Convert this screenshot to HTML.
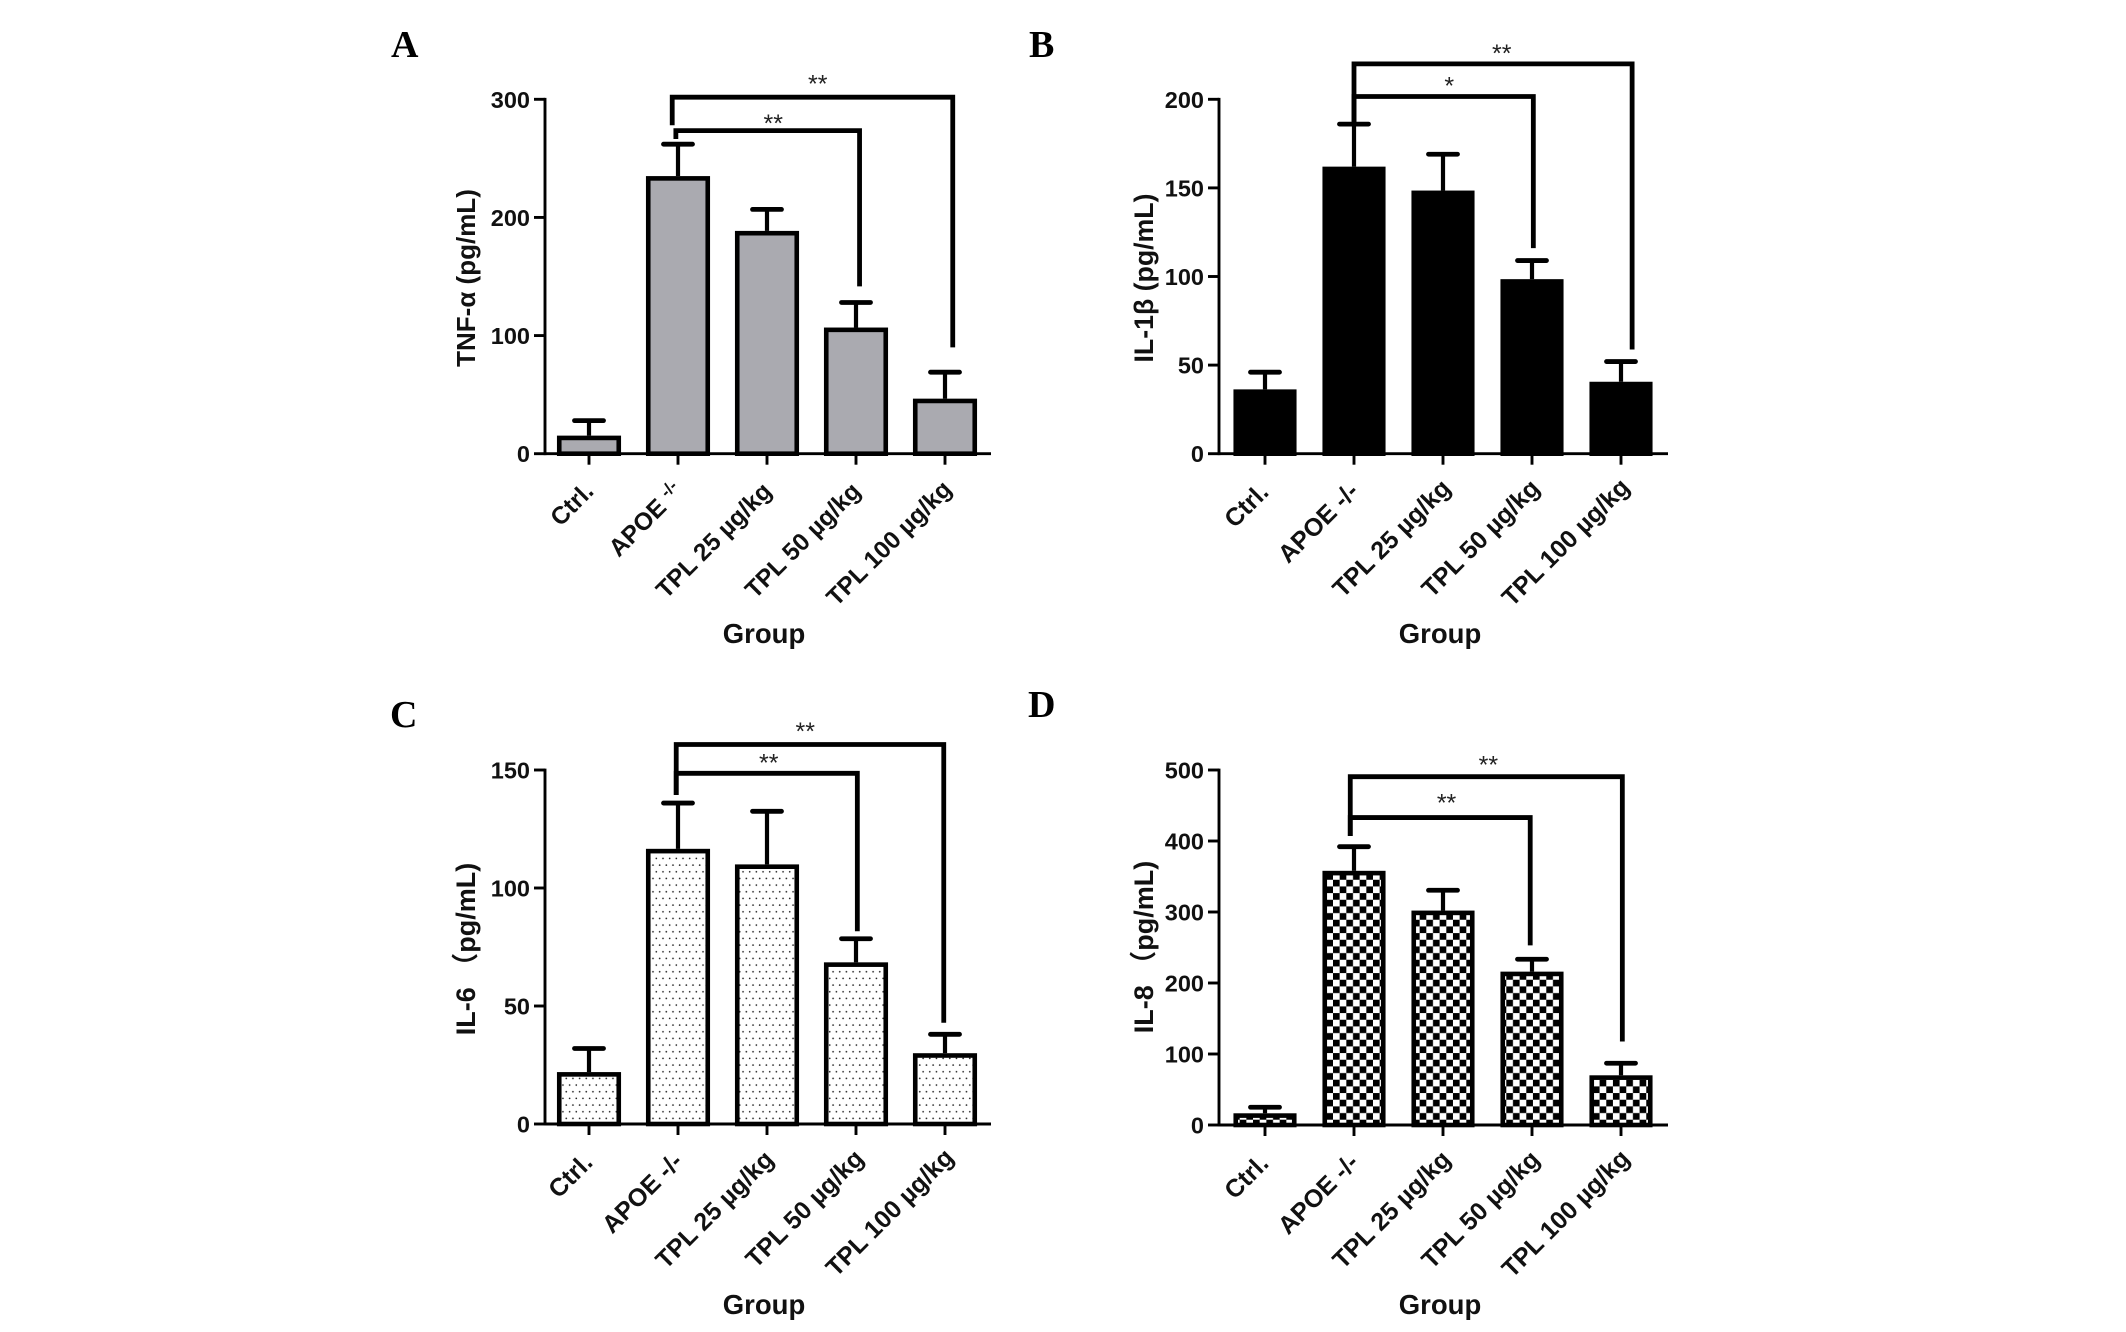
<!DOCTYPE html>
<html lang="en">
<head>
<meta charset="utf-8">
<title>Cytokine levels by treatment group</title>
<style>
  html, body { margin: 0; padding: 0; background: #fff; }
  #figure { display: block; width: 2126px; height: 1332px; }
  text { font-family: "Liberation Sans", "Noto Sans CJK SC", sans-serif; fill: #111; }
  .letter { font-family: "Liberation Serif", serif; font-weight: bold; font-size: 38px; fill: #000; }
  .tick-label { font-weight: bold; font-size: 23.5px; }
  .cat-label { font-weight: bold; }
  .y-title { font-weight: bold; }
  .x-title { font-weight: bold; font-size: 27.5px; }
  .star { font-size: 25px; fill: #222; }
</style>
</head>
<body>
<svg id="figure" xmlns="http://www.w3.org/2000/svg" width="2126" height="1332" viewBox="0 0 2126 1332">
  <defs>
    <pattern id="dots" patternUnits="userSpaceOnUse" width="6.67" height="13.33" x="1" y="2">
      <rect width="6.67" height="13.33" fill="#fff"/>
      <circle cx="1.67" cy="3.33" r="0.85" fill="#222"/>
      <circle cx="5" cy="10" r="0.85" fill="#222"/>
    </pattern>
    <pattern id="checker" patternUnits="userSpaceOnUse" width="13.33" height="13.33">
      <rect width="13.33" height="13.33" fill="#fff"/>
      <rect width="6.67" height="6.67" fill="#000"/>
      <rect x="6.67" y="6.67" width="6.67" height="6.67" fill="#000"/>
    </pattern>
  </defs>
  <rect width="2126" height="1332" fill="#fff"/>
</svg>
<script>
const categories = ['Ctrl.', 'APOE -/-', 'TPL 25 µg/kg', 'TPL 50 µg/kg', 'TPL 100 µg/kg'];

const tnfValues = [15.3, 235, 188.6, 106.8, 46.6];
const tnfErrors = [28, 262, 206.8, 128, 69];
const tnfTicks = [0, 100, 200, 300];
const tnfBracketLevels = [301.8, 273.5];
const tnfBracketFrom = [0.935, 0.976];
const tnfBracketTo = [4.087, 3.04];
const tnfBracketLeftEnds = [278, 266.4];
const tnfBracketRightEnds = [90, 141.6];
const tnfBracketStars = ['**', '**'];
const tnfStarAt = [2.57, 2.07];
const tnfStarLevels = [306.5, 273];

const il1Values = [36.3, 162, 148.5, 98.5, 40.6];
const il1Errors = [46, 186, 169, 109, 52];
const il1Ticks = [0, 50, 100, 150, 200];
const il1BracketLevels = [220, 201.6];
const il1BracketFrom = [1, 1];
const il1BracketTo = [4.125, 3.015];
const il1BracketLeftEnds = [186, 186];
const il1BracketRightEnds = [58.8, 116];
const il1BracketStars = ['**', '*'];
const il1StarAt = [2.66, 2.07];
const il1StarLevels = [221.5, 203.1];

const il6Values = [22, 116.6, 110, 68.5, 30];
const il6Errors = [32, 136, 132.5, 78.5, 38];
const il6Ticks = [0, 50, 100, 150];
const il6BracketLevels = [160.8, 148.6];
const il6BracketFrom = [0.98, 0.98];
const il6BracketTo = [3.986, 3.015];
const il6BracketLeftEnds = [139.4, 139.4];
const il6BracketRightEnds = [42.9, 81.7];
const il6BracketStars = ['**', '**'];
const il6StarAt = [2.43, 2.02];
const il6StarLevels = [163.1, 149.7];

const il8Values = [16.5, 358, 302, 216, 70];
const il8Errors = [25, 392, 330.6, 233.5, 87];
const il8Ticks = [0, 100, 200, 300, 400, 500];
const il8BracketLevels = [490.6, 433];
const il8BracketFrom = [0.958, 0.958];
const il8BracketTo = [4.015, 2.98];
const il8BracketLeftEnds = [407, 407];
const il8BracketRightEnds = [117.6, 253];
const il8BracketStars = ['**', '**'];
const il8StarAt = [2.51, 2.04];
const il8StarLevels = [496, 442.6];

const panels = [
  { key: 'tnf', letter: 'A', lx: 391, ly: 57, axisX: 545, axisY: 453.7, topY: 99.3, max: 300, tick0: 589, step: 89, right: 991, fill: '#aaaab0', barW: 59.5, yTitle: 'TNF-α (pg/mL)', titleSize: 26, titleX: 475, titleY: 278, groupX: 764, groupY: 643, super: true, catSize: 24.5, labelShift: [1, 1, 1, 1, 3],
    values: tnfValues, errors: tnfErrors, ticks: tnfTicks, levels: tnfBracketLevels, from: tnfBracketFrom, to: tnfBracketTo, leftEnds: tnfBracketLeftEnds, rightEnds: tnfBracketRightEnds, stars: tnfBracketStars, starAt: tnfStarAt, starLevels: tnfStarLevels },
  { key: 'il1', letter: 'B', lx: 1029, ly: 57, axisX: 1219, axisY: 453.7, topY: 99.3, max: 200, tick0: 1265, step: 89, right: 1668, fill: '#000', barW: 58.5, yTitle: 'IL-1β (pg/mL)', titleSize: 26.7, titleX: 1153, titleY: 278, groupX: 1440, groupY: 643, super: false, catSize: 25, labelShift: [0, 1, 4, 4, 5],
    values: il1Values, errors: il1Errors, ticks: il1Ticks, levels: il1BracketLevels, from: il1BracketFrom, to: il1BracketTo, leftEnds: il1BracketLeftEnds, rightEnds: il1BracketRightEnds, stars: il1BracketStars, starAt: il1StarAt, starLevels: il1StarLevels },
  { key: 'il6', letter: 'C', lx: 390, ly: 727, axisX: 545, axisY: 1124, topY: 770, max: 150, tick0: 589, step: 89, right: 991, fill: 'url(#dots)', barW: 59.5, yTitle: 'IL-6\u00a0（pg/mL)', titleSize: 27, titleX: 475, titleY: 949, groupX: 764, groupY: 1314, super: false, catSize: 25, labelShift: [0, 1, 3, 4, 5],
    values: il6Values, errors: il6Errors, ticks: il6Ticks, levels: il6BracketLevels, from: il6BracketFrom, to: il6BracketTo, leftEnds: il6BracketLeftEnds, rightEnds: il6BracketRightEnds, stars: il6BracketStars, starAt: il6StarAt, starLevels: il6StarLevels },
  { key: 'il8', letter: 'D', lx: 1028, ly: 717, axisX: 1219, axisY: 1125, topY: 770, max: 500, tick0: 1265, step: 89, right: 1668, fill: 'url(#checker)', barW: 58.5, yTitle: 'IL-8\u00a0（pg/mL)', titleSize: 27, titleX: 1153, titleY: 947, groupX: 1440, groupY: 1314, super: false, catSize: 25, labelShift: [0, 1, 4, 4, 5],
    values: il8Values, errors: il8Errors, ticks: il8Ticks, levels: il8BracketLevels, from: il8BracketFrom, to: il8BracketTo, leftEnds: il8BracketLeftEnds, rightEnds: il8BracketRightEnds, stars: il8BracketStars, starAt: il8StarAt, starLevels: il8StarLevels }
];

const SVG_NS = 'http://www.w3.org/2000/svg';
const figure = document.getElementById('figure');

function make(parent, tag, attrs, content) {
  const node = document.createElementNS(SVG_NS, tag);
  for (const k in attrs) node.setAttribute(k, attrs[k]);
  if (content !== undefined) node.textContent = content;
  parent.appendChild(node);
  return node;
}

function drawPanel(p) {
  const yScale = v => p.axisY - (v / p.max) * (p.axisY - p.topY);
  const xScale = i => p.tick0 + i * p.step;

  const g = make(figure, 'g', {});
  
  

  const letter = make(g, 'text', { class: 'letter', x: p.lx, y: p.ly }, p.letter);
  
  

  // bars and error bars
  p.values.forEach((v, i) => {
    const cx = xScale(i);
    const top = yScale(v);
    const capY = yScale(p.errors[i]);

    const stem = make(g, 'line', { x1: cx, x2: cx, y1: capY, y2: top, stroke: '#000', 'stroke-width': 4.2 });
    
    

    const cap = make(g, 'line', { x1: cx - 14.5, x2: cx + 14.5, y1: capY, y2: capY, stroke: '#000', 'stroke-width': 4.8, 'stroke-linecap': 'round' });
    
    

    const bar = make(g, 'rect', { x: cx - p.barW / 2, y: top + 2.3, width: p.barW, height: Math.max(0, p.axisY - top - 2.3), fill: p.fill, stroke: '#000', 'stroke-width': 4.6 });
    
    
  });

  // axes
  const yAxis = make(g, 'line', { x1: p.axisX, x2: p.axisX, y1: p.topY - 1.4, y2: p.axisY + 1.4, stroke: '#000', 'stroke-width': 2.9 });
  
  

  const xAxis = make(g, 'line', { x1: p.axisX, x2: p.right, y1: p.axisY, y2: p.axisY, stroke: '#000', 'stroke-width': 2.9 });
  
  

  p.ticks.forEach(t => {
    const y = yScale(t);
    const mark = make(g, 'line', { x1: p.axisX - 11, x2: p.axisX, y1: y, y2: y, stroke: '#000', 'stroke-width': 2.9 });
    
    

    const label = make(g, 'text', { class: 'tick-label', x: p.axisX - 15, y: y + 8.5, 'text-anchor': 'end' }, String(t));
    
    
  });

  categories.forEach((c, i) => {
    const cx = xScale(i);
    const mark = make(g, 'line', { x1: cx, x2: cx, y1: p.axisY, y2: p.axisY + 11, stroke: '#000', 'stroke-width': 2.9 });
    
    

    const ax = cx + 5 + p.labelShift[i];
    const ay = p.axisY + 40 - p.labelShift[i];
    const label = make(g, 'text', { class: 'cat-label', 'font-size': p.catSize, x: ax, y: ay, 'text-anchor': 'end', transform: 'rotate(-45 ' + ax + ' ' + ay + ')' });
    
    
    if (p.super && c === 'APOE -/-') {
      make(label, 'tspan', {}, 'APOE ');
      make(label, 'tspan', { dy: -8, 'font-size': 17 }, '-/-');
    } else {
      label.textContent = c;
    }
  });

  const yTitle = make(g, 'text', { class: 'y-title', 'font-size': p.titleSize, x: p.titleX, y: p.titleY, 'text-anchor': 'middle', transform: 'rotate(-90 ' + p.titleX + ' ' + p.titleY + ')' }, p.yTitle);
  
  

  const xTitle = make(g, 'text', { class: 'x-title', x: p.groupX, y: p.groupY, 'text-anchor': 'middle' }, 'Group');
  
  

  // significance brackets
  p.levels.forEach((lvl, i) => {
    const x1 = xScale(p.from[i]);
    const x2 = xScale(p.to[i]);
    const yL = yScale(lvl);
    const d = 'M' + x1 + ' ' + yScale(p.leftEnds[i]) + 'V' + yL + 'H' + x2 + 'V' + yScale(p.rightEnds[i]);
    const path = make(g, 'path', { d: d, fill: 'none', stroke: '#000', 'stroke-width': 4.8, 'stroke-linejoin': 'miter' });
    
    

    const star = make(g, 'text', { class: 'star', x: xScale(p.starAt[i]), y: yScale(p.starLevels[i]) + 0.7, 'text-anchor': 'middle' }, p.stars[i]);
    
    
  });
}

panels.forEach(drawPanel);
</script>
</body>
</html>
